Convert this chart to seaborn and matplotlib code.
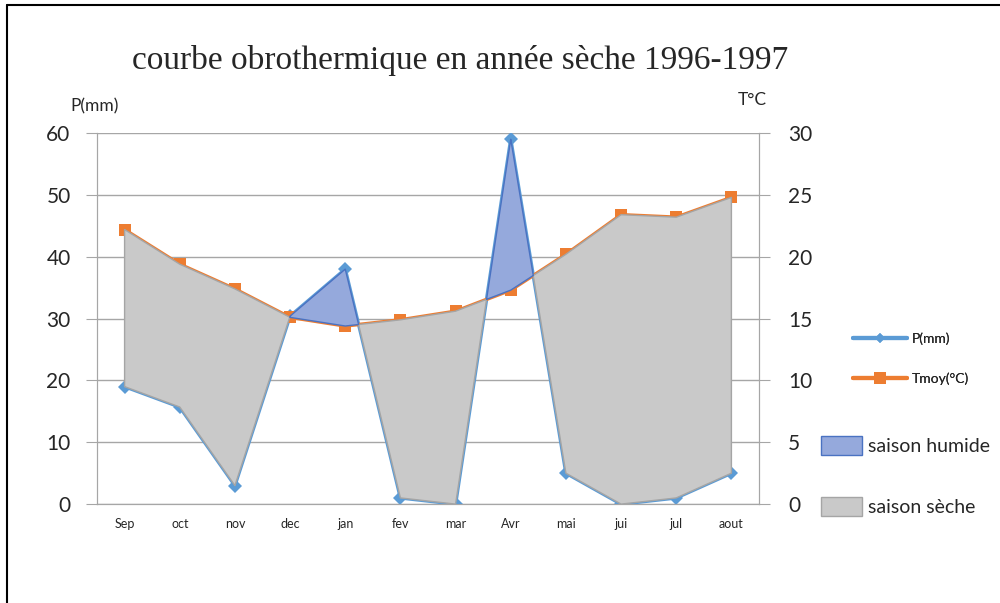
import matplotlib
matplotlib.use("Agg")
import matplotlib.pyplot as plt
from matplotlib.lines import Line2D
from matplotlib.patches import Patch
import numpy as np
import pandas as pd
import seaborn as sns

sns.set_style("white")
plt.rcParams['font.family'] = ['Lato', 'DejaVu Sans']

# data
months = ["Sep", "oct", "nov", "dec", "jan", "fev", "mar", "Avr", "mai", "jui", "jul", "aout"]
precip = [19, 15.7, 3, 30.4, 38, 1, 0, 59, 5, 0, 1, 5]
tmoy = [22.2, 19.4, 17.4, 15.1, 14.4, 14.9, 15.6, 17.3, 20.2, 23.4, 23.2, 24.8]

df = pd.DataFrame({"mois": months, "P": precip, "T": tmoy})
df["x"] = np.arange(len(df))

blue = "#5B9BD5"
orange = "#ED7D31"
wet_fill = "#95A9DC"
wet_edge = "#4A72C2"
dry_fill = "#C9C9C9"
dry_edge = "#A5A5A5"

fig = plt.figure(figsize=(10, 6.03), dpi=100)
ax = fig.add_axes([0.097, 0.164, 0.662, 0.6153])
ax2 = ax.twinx()

# P on left axis
sns.lineplot(data=df, x="x", y="P", ax=ax, color=blue, lw=2.5, marker="D",
             markersize=7, markeredgewidth=0, zorder=3)
# T on right axis
sns.lineplot(data=df, x="x", y="T", ax=ax2, color=orange, lw=2.5, marker="s",
             markersize=8, markeredgewidth=0, zorder=2)

# seasons: P compared to 2T (P / 2 on the T axis)
xf = np.linspace(0, len(df) - 1, 1200)
pf = np.interp(xf, df["x"], df["P"]) / 2
tf = np.interp(xf, df["x"], df["T"])
ax2.fill_between(xf, pf, tf, where=pf <= tf, interpolate=True,
                 facecolor=dry_fill, edgecolor=dry_edge, lw=1, zorder=3)
ax2.fill_between(xf, pf, tf, where=pf >= tf, interpolate=True,
                 facecolor=wet_fill, edgecolor=wet_edge, lw=1, zorder=3)

ax.set_xlim(-0.5, len(df) - 0.5)
ax.set_ylim(0, 60)
ax2.set_ylim(0, 30)
ax.set_yticks(range(0, 61, 10))
ax2.set_yticks(range(0, 31, 5))
ax.set_xticks(df["x"])
ax.set_xticklabels(months, fontsize=9)
ax.set_xticks(np.arange(-0.5, len(df)), minor=True)
ax.tick_params(axis="x", which="major", length=0, pad=10)
ax.tick_params(axis="x", which="minor", length=5, color="#A6A6A6", direction="out")
ax.tick_params(axis="y", length=8, color="#A6A6A6", labelsize=15, pad=11)
ax2.tick_params(axis="y", length=8, color="#A6A6A6", labelsize=15, pad=13)
ax.grid(axis="y", color="#A6A6A6", lw=1)
ax.set_axisbelow(True)
for a in (ax, ax2):
    a.spines["top"].set_visible(False)
    a.spines["left"].set_color("#A6A6A6")
    a.spines["right"].set_color("#A6A6A6")
    a.spines["bottom"].set_color("#A6A6A6")
ax.set_xlabel("")
ax.set_ylabel("")
ax2.set_ylabel("")

fig.text(0.46, 0.9, "courbe obrothermique en année sèche 1996-1997",
         family="Liberation Serif", fontsize=24, ha="center", va="center")
fig.text(0.07, 0.823, "P(mm)", fontsize=12.5, va="center")
fig.text(0.738, 0.834, "T°C", fontsize=12.5, va="center")

leg1 = fig.legend(handles=[Line2D([], [], color=blue, lw=3, marker="D", markersize=5, markeredgewidth=0),
                           Line2D([], [], color=orange, lw=3, marker="s", markersize=8, markeredgewidth=0)],
                  labels=["P(mm)", "Tmoy(°C)"], loc="upper left", bbox_to_anchor=(0.853, 0.449),
                  frameon=False, fontsize=10, handlelength=3.9, handletextpad=0.3, labelspacing=2.0,
                  borderaxespad=0, borderpad=0)
fig.add_artist(leg1)
fig.legend(handles=[Patch(facecolor=wet_fill, edgecolor=wet_edge),
                    Patch(facecolor=dry_fill, edgecolor=dry_edge)],
           labels=["saison humide", "saison sèche"], loc="upper left", bbox_to_anchor=(0.821, 0.277),
           frameon=False, fontsize=14, handlelength=2.1, handleheight=1.15, handletextpad=0.3,
           labelspacing=2.15, borderaxespad=0, borderpad=0)

# frame lines of the original sheet
fig.add_artist(Line2D([0.007, 0.007], [0, 0.992], color="black", lw=1.5, transform=fig.transFigure))
fig.add_artist(Line2D([0.007, 1], [0.992, 0.992], color="black", lw=1.5, transform=fig.transFigure))

fig.savefig("out.png", dpi=100)
